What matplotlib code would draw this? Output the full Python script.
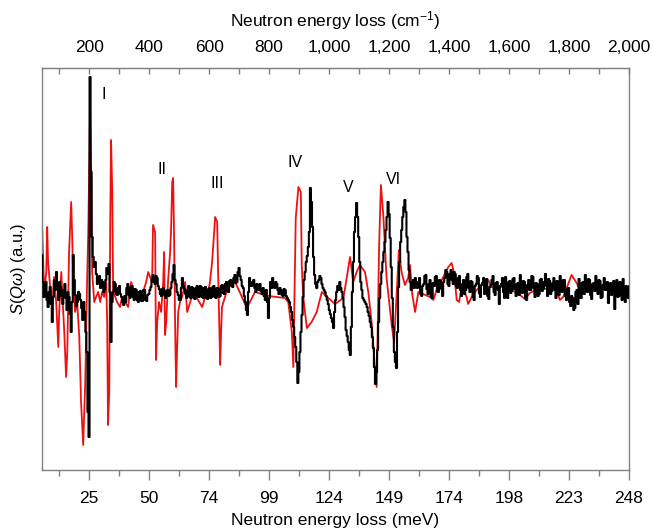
import numpy as np
import matplotlib
matplotlib.use("Agg")
import matplotlib.pyplot as plt
from matplotlib.ticker import FixedLocator, FuncFormatter

plt.rcParams["font.family"] = ["Liberation Sans", "DejaVu Sans"]
plt.rcParams["mathtext.fontset"] = "custom"
plt.rcParams["mathtext.rm"] = "Liberation Sans"
plt.rcParams["mathtext.it"] = "Liberation Sans:italic"

CM_PER_MEV = 8.0655

# Calculated spectrum (red): energy transfer in cm^-1, intensity in arbitrary units
calc_energy = [43, 50, 57, 60, 63, 70, 77, 83, 90, 97, 100, 107, 110, 117, 123, 127,
               133, 140, 143, 147, 153, 160, 167, 173, 180, 187, 193, 197, 203, 207,
               210, 217, 223, 230, 237, 243, 250, 257, 260, 263, 267, 270, 273, 277,
               280, 287, 293, 303, 310, 320, 330, 340, 350, 360, 370, 380, 390, 397,
               403, 410, 413, 420, 423, 427, 433, 440, 447, 450, 453, 457, 463, 470,
               473, 477, 480, 483, 487, 490, 493, 497, 503, 510, 520, 527, 537, 547,
               557, 567, 577, 587, 597, 603, 610, 617, 620, 627, 630, 633, 637, 640,
               643, 653, 663, 687, 726, 753, 798, 853, 864, 876, 881, 889, 898, 906,
               909, 914, 926, 942, 959, 976, 998, 1020, 1048, 1059, 1070, 1081, 1092,
               1103, 1120, 1131, 1142, 1153, 1159, 1167, 1173, 1181, 1192, 1209, 1217,
               1226, 1233, 1242, 1253, 1264, 1270, 1278, 1287, 1298, 1337, 1348, 1359,
               1381, 1398, 1409, 1417, 1426, 1434, 1442, 1459, 1464, 1476, 1492, 1531,
               1542, 1592, 1637, 1653, 1670, 1703, 1759, 1770, 1781, 1809, 1826, 1837,
               1870, 1937, 2000]
calc_intensity = [65, 0, 20, 65, 30, 5, -15, 15, -10, -55, -20, 20, 0, -40, -85, -60,
                  40, 90, 60, 10, -20, -10, -45, -110, -153, -90, 10, 60, 180, 120,
                  20, -10, -5, 0, -10, 0, -5, 10, -30, -133, -100, 60, 152, 100,
                  0, -5, -10, -15, -5, -10, -15, 10, 0, -5, 0, 0, 10, 20,
                  15, 10, 67, 60, -68, -30, -10, -20, 10, 40, -43, -30, 10, 40,
                  60, 110, 114, 60, -40, -95, -60, -20, -10, -5, 10, -20, -10, 0,
                  -5, -10, -15, -5, 0, 10, 30, 60, 75, 70, 20, -20, -73, -40,
                  -15, -5, 5, 10, -16, 0, -4, -6, -10, -40, -75, 74, 105, 100,
                  27, -5, -36, -30, -20, 0, -6, -12, -6, 14, 35, 10, 20,
                  27, 20, 0, -30, -75, -95, 45, 107, 77, 14, -33, -50,
                  0, 42, 20, 7, 14, 27, -3, -20, 0, -5, -8, 2,
                  15, 25, 29, 19, -8, -10, 5, -5, -12, -5, 2, 12,
                  5, 5, -3, -7, -1, 4, 2, -8, -5, 17, 9, 2,
                  4, 3, 2]

# Measured spectrum (black): 3.5 cm^-1 bins starting at 42 cm^-1
meas_start, meas_step = 42.0, 3.5
meas_intensity = [
    # 42 - 108 cm^-1
    37, 10, -5, 8, 10, -8, -15, 0, 5, -12, -30, -5, 12, 2, 20, 6, -8, 10, 5, -4,
    # 112 - 178
    -12, 2, 8, -6, -18, 0, -5, -22, -40, -10, 37, 12, -3, -14, -10, 0, -2, -8, -16, -28,
    # 182 - 248
    -10, -20, -40, -60, -120, -145, 215, 120, 55, 35, 25, 30, 18, 8, 10, 16, 4, 12, 10, 0,
    # 252 - 318
    3, 12, 24, 18, 28, 0, -50, -10, 0, 10, 8, -2, -3, 4, 6, -2, -5, -10, -13, -4,
    # 322 - 388
    -10, 4, 8, -3, -6, 5, 6, -5, -8, 3, 2, -8, -10, 0, 1, -9, -9, 2, 2, -8,
    # 392 - 458
    -9, -3, -2, 2, 5, 12, 17, 10, 8, 16, 14, 6, 3, -2, -4, 3, 4, -3, -6, 1,
    # 462 - 528
    2, -4, -3, 4, 10, 18, 27, 12, 8, 0, -3, -8, -8, 4, 14, 6, 3, -2, -6, 2,
    # 532 - 598
    6, -5, -6, 5, 4, -6, -7, 4, 6, -5, -5, 6, 5, -5, -6, 4, 5, -6, -7, 3,
    # 602 - 668
    4, -6, -5, 5, 6, -5, -6, 4, 4, -5, -4, 6, 7, -1, -2, 8, 10, 1, 0, 11,
    # 672 - 738
    12, 6, 5, 14, 17, 9, 10, 20, 24, 16, 12, 6, 4, -4, -10, -18, -23, 0, 14, 6,
    # 742 - 808
    6, 10, 12, 4, 0, 8, 6, 2, 8, 1, -2, 4, -4, -8, 2, -10, -26, -6, 10, 4,
    # 812 - 878
    14, 8, 4, 10, 8, 2, -2, 4, 2, -3, -4, 3, 2, -4, -6, -8, -10, -15, -20, -28,
    # 882 - 948
    -35, -45, -55, -70, -91, -80, -60, -40, -23, -5, 12, 20, 30, 36, 45, 60, 104, 90, 65, 35,
    # 952 - 1018
    17, 8, 4, 10, 12, 16, 14, 8, 4, 2, 0, -4, -8, -12, -18, -22, -26, -30, -36, -20,
    # 1022 - 1088
    -8, 0, 6, 2, 10, 4, 0, -6, -15, -25, -38, -44, -50, -58, -63, -35, 0, 30, 60, 75,
    # 1092 - 1158
    89, 75, 55, 30, 10, 2, -6, -8, -10, -12, -15, -20, -24, -30, -35, -45, -56, -75, -92, -80,
    # 1162 - 1228
    -58, -30, -6, 8, 20, 30, 40, 50, 62, 75, 90, 78, 54, 25, -6, -35, -60, -70, -76, -40,
    # 1232 - 1291
    5, 30, 50, 62, 75, 85, 92, 80, 55, 40, 22, 10, 2, 8, 12, 4, 14, 6,
    # 1295 - 1358
    4, 10, 14, -2, -4, 6, 8, 16, 17, 3, -2, 8, 12, -4, -6, 9, 6, 15, 16, 1,
    # 1365 - 1428
    0, 12, 11, 3, -4, 10, 14, 22, 20, 8, 6, 18, 22, 12, 8, 20, 18, 6, 4, 14,
    # 1435 - 1498
    16, 2, -4, 8, 12, -2, 2, 15, 18, 4, 0, 11, 10, -5, -8, 6, 8, 16, 14, -1,
    # 1505 - 1568
    -5, 7, 9, 14, -2, 10, 13, -4, -7, 5, 7, 12, 16, 0, -3, 9, 10, 2, -12, 6,
    # 1575 - 1638
    8, 14, 0, -6, 15, 4, -6, 10, 11, -1, 1, 13, 14, 3, -4, 8, 9, -3, 17, 5,
    # 1645 - 1708
    -1, 11, 10, -6, -8, 7, 12, 2, 2, 16, 15, 4, -5, 9, 8, -4, -2, 12, 13, 1,
    # 1715 - 1778
    3, 10, 18, 6, -4, 13, 11, -2, 1, 9, 14, 2, -6, 11, 10, -3, 16, 5, 0, 12,
    # 1785 - 1848
    12, -4, -8, 3, 4, -10, -14, -4, -6, -18, -16, 0, 2, -12, 13, 4, -6, 9, 10, -2,
    # 1855 - 1918
    17, 6, 0, 13, 12, -3, -7, 8, 9, 1, 16, 5, -2, 12, 11, -6, -5, 7, 14, 2,
    # 1925 - 1998
    2, 10, -11, 4, 9, -3, -1, 11, -17, 2, 12, -5, -4, 10, 7, -8, 13, 3, -10, 6,
    4, -6, 6, 2]
meas_energy = meas_start + meas_step * np.arange(len(meas_intensity))

# Band labels
band_names = ["I", "II", "III", "IV", "V", "VI"]
band_x = [247, 443, 627, 887, 1064, 1214]
band_y = [197, 122, 108, 129, 104, 112]

major_cm = [200, 400, 600, 800, 1000, 1200, 1400, 1600, 1800, 2000]
minor_cm = [100, 300, 500, 700, 900, 1100, 1300, 1500, 1700, 1900]

fig = plt.figure(figsize=(6.53, 5.29), dpi=100)
ax = fig.add_axes([0.064, 0.1115, 0.899, 0.760])

ax.plot(calc_energy, calc_intensity, color="#ee1111", lw=1.3, zorder=2)
ax.plot(meas_energy, meas_intensity, color="black", lw=1.5,
        drawstyle="steps-mid", zorder=3)

for name, x, y in zip(band_names, band_x, band_y):
    ax.text(x, y, name, ha="center", va="center", fontsize=11.5)

ax.set_xlim(42, 2000)
ax.set_ylim(-178, 224)

for s in ax.spines.values():
    s.set_color("#808080")
    s.set_linewidth(1.0)

ax.set_yticks([])
ax.xaxis.set_major_locator(FixedLocator(major_cm))
ax.xaxis.set_minor_locator(FixedLocator(minor_cm))
ax.xaxis.set_major_formatter(
    FuncFormatter(lambda v, p: f"{round(v / CM_PER_MEV):d}"))
ax.tick_params(axis="x", which="major", direction="out", length=7, width=1,
               color="#808080", labelsize=12.5, pad=8)
ax.tick_params(axis="x", which="minor", direction="out", length=4, width=1,
               color="#808080")
ax.set_xlabel("Neutron energy loss (meV)", fontsize=12.5, labelpad=5)
ax.set_ylabel(r"$S$($Q\omega$) (a.u.)", fontsize=12, labelpad=10)

top = ax.secondary_xaxis("top")
top.xaxis.set_major_locator(FixedLocator(major_cm))
top.xaxis.set_minor_locator(FixedLocator(minor_cm))
top.xaxis.set_major_formatter(FuncFormatter(lambda v, p: f"{int(v):,}"))
top.tick_params(axis="x", which="both", direction="in", length=4, width=1,
                color="#808080", labelsize=12.5, pad=9)
top.spines["top"].set_color("#808080")
top.set_xlabel(r"Neutron energy loss (cm$^{-1}$)", fontsize=12.5, labelpad=10)

fig.savefig("out.png", dpi=100)
